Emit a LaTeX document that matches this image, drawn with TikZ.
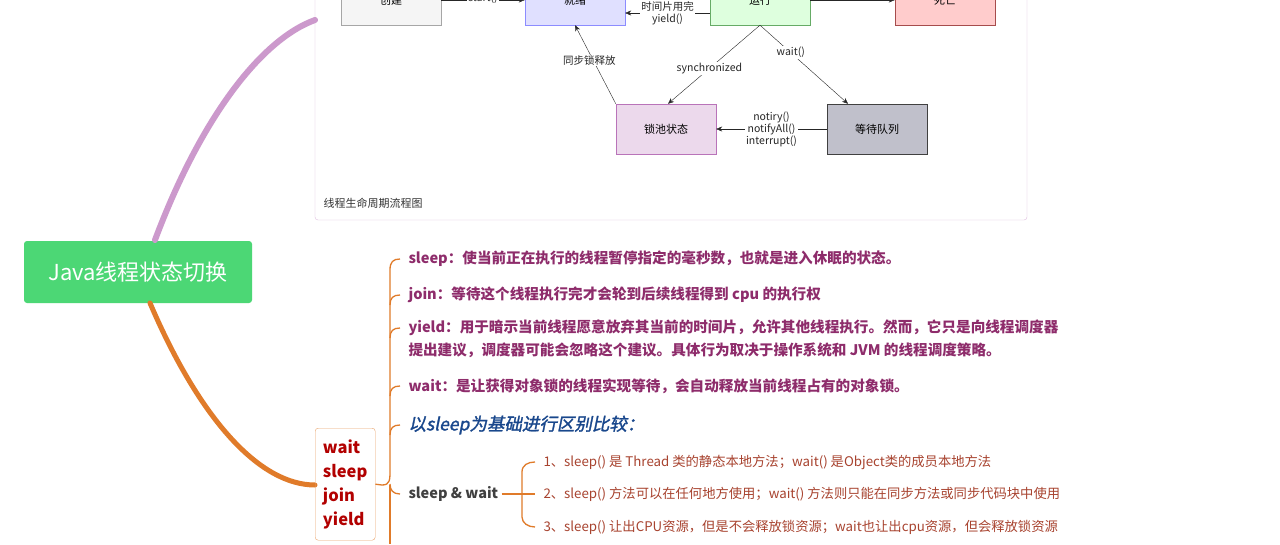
\documentclass[tikz,border=0pt]{standalone}
\usepackage{fontspec}
\setmainfont{Noto Sans CJK SC}
\newfontfamily\slfont{Noto Sans CJK SC}[FakeSlant=0.2,FakeBold=1.5]
\usetikzlibrary{arrows.meta}
\definecolor{orn}{HTML}{E07B2A}
\definecolor{itm}{HTML}{8E2C6B}
\definecolor{sub}{HTML}{A8432F}
\begin{document}
\begin{tikzpicture}[x=1pt,y=-1pt,
  st/.style={draw,minimum width=100pt,minimum height=50pt,font=\fontsize{11}{12}\selectfont},
  lb/.style={font=\fontsize{10.5}{12}\selectfont,align=center,fill=white,inner sep=1pt},
  ar/.style={-{Stealth[length=6pt,width=5pt]},black!85},
  it/.style={anchor=west,text=itm,font=\bfseries\fontsize{14.6}{23}\selectfont,align=left},
  sb/.style={anchor=west,text=sub,font=\fontsize{13.3}{15}\selectfont}]
\useasboundingbox (0,0) rectangle (1280,544);
\clip (0,0) rectangle (1280,544);
\fill[white] (0,0) rectangle (1280,544);
% frame
\draw[draw=violet!25,rounded corners=3pt] (315,-10) rectangle (1027,220);
\node[anchor=west,font=\fontsize{11}{12}\selectfont,text=black!80] (cap) at (320,203) {线程生命周期流程图};
\node[st,fill=gray!8,draw=gray!70] (cj) at (391,0) {创建};
\node[st,fill=blue!12,draw=blue!45] (jx) at (575,0) {就绪};
\node[st,fill=green!13,draw=green!45!black!60] (yx) at (760,0) {运行};
\node[st,fill=red!20,draw=red!50!black!70] (sw) at (945,0) {死亡};
\node[st,fill=violet!15,draw=violet!55] (sc) at (666,129) {锁池状态};
\node[st,fill=blue!10!gray!45,draw=black!75] (dd) at (877,129) {等待队列};
\draw[ar] (cj.east|-0,0) -- node[lb,pos=.5,yshift=2pt]{start()} (jx.west|-0,0);
\draw[ar] (yx.west|-0,13) -- node[lb]{时间片用完\\yield()} (jx.east|-0,13);
\draw[ar] (yx.east|-0,0) -- node[lb,yshift=13pt]{run 结束\\异常退出} (sw.west|-0,0);
\draw[ar] (yx.south) -- node[lb,pos=.55]{synchronized} ([xshift=2pt]sc.north);
\draw[ar] (yx.south) -- node[lb,pos=.35]{wait()} ([xshift=-29pt]dd.north);
\draw[ar] (dd.west) -- node[lb]{notiry()\\notifyAll()\\interrupt()} (sc.east);
\draw[ar] (sc.north west) -- node[lb,pos=.55,xshift=-4pt]{同步锁释放} (jx.south);
% mind map
\node[fill=green!55!teal!70,text=white,rounded corners=3pt,minimum width=228pt,minimum height=62pt,font=\fontsize{22}{24}\selectfont] (root) at (138,272) {Java线程状态切换};
\draw[violet!40,line width=6pt,line cap=round] (155,240) .. controls (200,120) and (260,40) .. (315,20);
\draw[orn,line width=5pt,line cap=round] (150,303) .. controls (200,420) and (260,485) .. (315,485);
\node[draw=orn!70,rounded corners=3pt,minimum width=60pt,minimum height=112pt,text=red!70!black,font=\bfseries\fontsize{16.5}{24}\selectfont,align=left,anchor=north west] (box) at (315,428) {wait\\sleep\\join\\yield};
\draw[orn,line width=1.3pt] (box.east) -- (382,485);
\draw[orn,line width=1.3pt] (382,485) .. controls (390,485) and (390,480) .. (390,470) -- (390,270) .. controls (390,262) and (393,259) .. (400,259);
\draw[orn,line width=1.3pt] (390,485) -- (390,544);
\foreach \y in {295,328,386,425}{\draw[orn,line width=1.3pt] (390,\y+10) .. controls (390,\y+3) and (393,\y) .. (400,\y);}
\draw[orn,line width=1.3pt] (390,484) .. controls (390,490) and (393,494) .. (400,494);
\node[it] (i1) at (405,259) {sleep：使当前正在执行的线程暂停指定的毫秒数，也就是进入休眠的状态。};
\node[it] (i2) at (405,295) {join：等待这个线程执行完才会轮到后续线程得到 cpu 的执行权};
\node[it] (i3) at (405,339) {yield：用于暗示当前线程愿意放弃其当前的时间片，允许其他线程执行。然而，它只是向线程调度器\\提出建议，调度器可能会忽略这个建议。具体行为取决于操作系统和 JVM 的线程调度策略。};
\node[it] (i4) at (405,386) {wait：是让获得对象锁的线程实现等待，会自动释放当前线程占有的对象锁。};
\node[anchor=west,text=blue!60!cyan!50!black!90,font=\slfont\fontsize{17.5}{20}\selectfont] (i5) at (405,425) {以sleep为基础进行区别比较：};
\node[anchor=west,text=black!75,font=\bfseries\fontsize{14.5}{16}\selectfont] (sw2) at (405,494) {sleep \& wait};
\draw[orn,line width=1.3pt] (sw2.east) -- (522,494);
\draw[orn,line width=1.3pt] (535,462) .. controls (528,462) and (522,465) .. (522,472) -- (522,517) .. controls (522,523) and (528,527) .. (535,527);
\draw[orn,line width=1.3pt] (522,494) -- (535,494);
\node[sb] (s1) at (540,462) {1、sleep() 是 Thread 类的静态本地方法；wait() 是Object类的成员本地方法};
\node[sb] (s2) at (540,494) {2、sleep() 方法可以在任何地方使用；wait() 方法则只能在同步方法或同步代码块中使用};
\node[sb] (s3) at (540,527) {3、sleep() 让出CPU资源，但是不会释放锁资源；wait也让出cpu资源，但会释放锁资源};
\end{tikzpicture}
\end{document}
